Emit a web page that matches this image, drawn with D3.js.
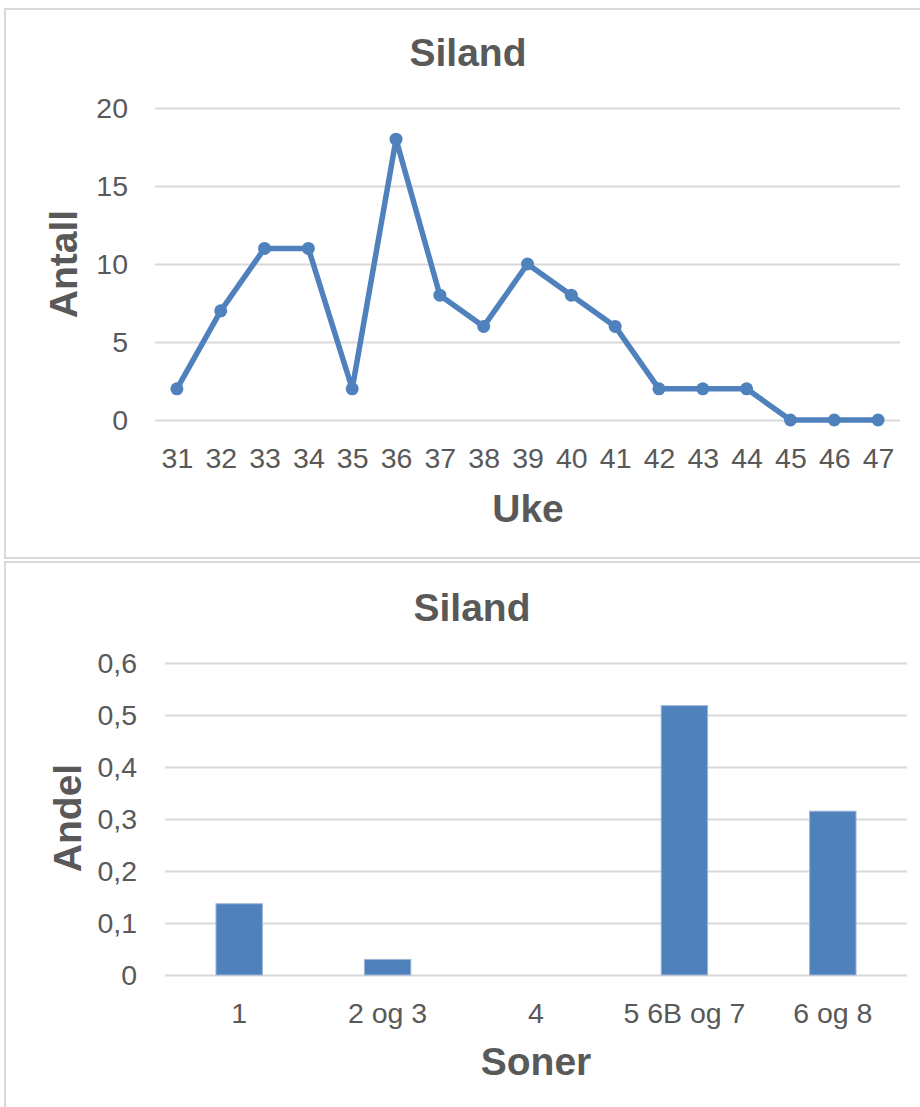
<!DOCTYPE html>
<html>
<head>
<meta charset="utf-8">
<script src="https://cdn.jsdelivr.net/npm/d3@7"></script>
<style>
  html, body { margin: 0; padding: 0; background: #ffffff; }
  svg { display: block; }
  text { font-family: "Liberation Sans", Arial, sans-serif; fill: #595959; }
</style>
</head>
<body>
<svg id="chart" width="920" height="1107"></svg>
<script>
// Weekly counts (top chart)
const weeks = ["31","32","33","34","35","36","37","38","39","40","41","42","43","44","45","46","47"];
const counts = [2, 7, 11, 11, 2, 18, 8, 6, 10, 8, 6, 2, 2, 2, 0, 0, 0];
const countTicks = [0, 5, 10, 15, 20];

// Share per zone (bottom chart)
const zones = ["1", "2 og 3", "4", "5 6B og 7", "6 og 8"];
const shares = [0.137, 0.030, 0, 0.518, 0.315];
const shareTicks = [0, 0.1, 0.2, 0.3, 0.4, 0.5, 0.6];
const shareTickLabels = ["0", "0,1", "0,2", "0,3", "0,4", "0,5", "0,6"];

const titleText = "Siland";
const blue = "#4f81bd";
const grid = "#d9d9d9";
const tickFont = 28.5;
const titleFont = 39;

const svg = d3.select("#chart");

// Chart area frames
svg.append("rect").attr("x", 5).attr("y", 9).attr("width", 940).attr("height", 549)
  .attr("fill", "none").attr("stroke", grid).attr("stroke-width", 2);
svg.append("rect").attr("x", 5).attr("y", 562).attr("width", 940).attr("height", 600)
  .attr("fill", "none").attr("stroke", grid).attr("stroke-width", 2);

function styleTicks(g) {
  g.selectAll(".tick text").attr("font-size", tickFont).attr("fill", "#595959")
    .attr("font-family", "Liberation Sans, Arial, sans-serif");
}

// ---------- Top: line chart ----------
const x1 = d3.scalePoint().domain(weeks).range([155, 900]).padding(0.5);
const y1 = d3.scaleLinear().domain([0, 20]).range([420, 108]);

const lineChart = svg.append("g");

lineChart.append("text").attr("x", 468).attr("y", 66).attr("text-anchor", "middle")
  .attr("font-size", titleFont).attr("font-weight", "bold").text(titleText);

const yAxis1 = d3.axisLeft(y1).tickValues(countTicks).tickSize(-(900 - 155)).tickPadding(27);
const gy1 = lineChart.append("g").attr("transform", "translate(155,0)").call(yAxis1);
gy1.select(".domain").remove();
gy1.selectAll(".tick line").attr("stroke", grid).attr("stroke-width", 2);
styleTicks(gy1);

const xAxis1 = d3.axisBottom(x1).tickSize(0).tickPadding(28);
const gx1 = lineChart.append("g").attr("transform", "translate(0,420)").call(xAxis1);
gx1.select(".domain").remove();
styleTicks(gx1);

lineChart.append("text").attr("x", 528).attr("y", 522).attr("text-anchor", "middle")
  .attr("font-size", titleFont).attr("font-weight", "bold").text("Uke");
lineChart.append("text").attr("transform", "translate(77,264) rotate(-90)").attr("text-anchor", "middle")
  .attr("font-size", titleFont).attr("font-weight", "bold").text("Antall");

const line = d3.line().x((d, i) => x1(weeks[i])).y(d => y1(d));
lineChart.append("path").datum(counts).attr("d", line)
  .attr("fill", "none").attr("stroke", blue).attr("stroke-width", 5.5)
  .attr("stroke-linejoin", "round");
lineChart.selectAll("circle.pt").data(counts).join("circle").attr("class", "pt")
  .attr("cx", (d, i) => x1(weeks[i])).attr("cy", d => y1(d)).attr("r", 6.5)
  .attr("fill", blue);

// ---------- Bottom: bar chart ----------
const x2 = d3.scaleBand().domain(zones).range([165, 907]).paddingInner(0.687).paddingOuter(0.3435);
const y2 = d3.scaleLinear().domain([0, 0.6]).range([975, 663]);

const barChart = svg.append("g");

barChart.append("text").attr("x", 472).attr("y", 621).attr("text-anchor", "middle")
  .attr("font-size", titleFont).attr("font-weight", "bold").text(titleText);

const yAxis2 = d3.axisLeft(y2).tickValues(shareTicks)
  .tickFormat((d, i) => shareTickLabels[i]).tickSize(-(907 - 165)).tickPadding(28);
const gy2 = barChart.append("g").attr("transform", "translate(165,0)").call(yAxis2);
gy2.select(".domain").remove();
gy2.selectAll(".tick line").attr("stroke", grid).attr("stroke-width", 2);
styleTicks(gy2);

const xAxis2 = d3.axisBottom(x2).tickSize(0).tickPadding(28);
const gx2 = barChart.append("g").attr("transform", "translate(0,975)").call(xAxis2);
gx2.select(".domain").remove();
styleTicks(gx2);

barChart.append("text").attr("x", 536).attr("y", 1075).attr("text-anchor", "middle")
  .attr("font-size", titleFont).attr("font-weight", "bold").text("Soner");
barChart.append("text").attr("transform", "translate(81,818) rotate(-90)").attr("text-anchor", "middle")
  .attr("font-size", titleFont).attr("font-weight", "bold").text("Andel");

barChart.selectAll("rect.bar").data(shares).join("rect").attr("class", "bar")
  .attr("x", (d, i) => x2(zones[i])).attr("width", x2.bandwidth())
  .attr("y", d => y2(d)).attr("height", d => y2(0) - y2(d))
  .attr("fill", blue).attr("stroke", "#9fb6d8").attr("stroke-width", 1);
</script>
</body>
</html>
